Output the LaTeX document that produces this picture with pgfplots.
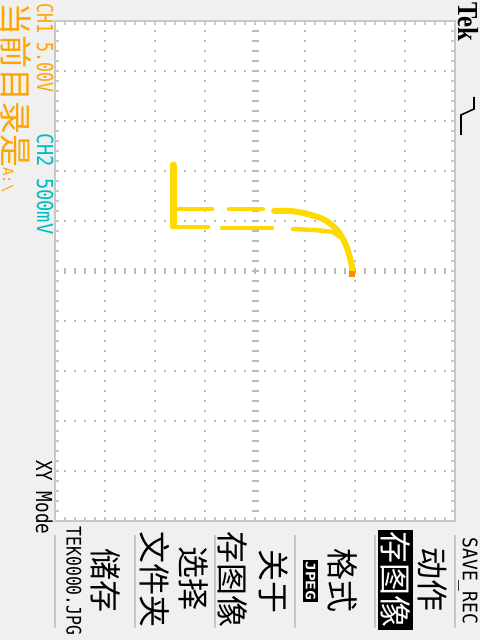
\documentclass[border=0pt]{standalone}
\usepackage{pgfplots}
\pgfplotsset{compat=1.18}
\usepackage{fontspec}
\setmainfont{DejaVu Sans}
\newfontfamily\mono{DejaVu Sans Mono}
\newfontfamily\cjk{Noto Sans CJK SC}
\newfontfamily\tekf{Liberation Serif}
\definecolor{bg}{RGB}{240,240,240}
\definecolor{grat}{RGB}{200,200,200}
\definecolor{dotc}{RGB}{185,185,185}
\definecolor{scopeorange}{RGB}{255,165,0}
\definecolor{scopecyan}{RGB}{0,190,190}
\definecolor{trace}{RGB}{255,218,0}
\definecolor{endpt}{RGB}{255,140,0}
\begin{document}
\begin{tikzpicture}[x=1pt,y=1pt]
% background
\fill[bg] (0,0) rectangle (480,640);
\fill[white] (55,619) rectangle (455,119);
% dotted grid lines
\foreach \gx in {105,155,205,305,355,405}{
  \foreach \k in {1,...,49}{\fill[dotc] (\gx-1,{640-21-10*\k-1}) rectangle +(2,2);}
}
\foreach \gy in {71,121,171,221,321,371,421,471}{
  \foreach \k in {1,...,39}{\fill[dotc] ({55+10*\k-1},640-\gy-1) rectangle +(2,2);}
}
% centre lines
\foreach \k in {1,...,49}{\fill[dotc] (251.5,{640-21-10*\k-1}) rectangle +(7,2);}
\foreach \k in {1,...,39}{\fill[dotc] ({55+10*\k-1},{640-271-3}) rectangle +(2,6);}
% border ticks
\foreach \k in {1,...,39}{
  \fill[grat] ({55+10*\k-1},619) rectangle +(2,-4);
  \fill[grat] ({55+10*\k-1},119) rectangle +(2,4);
}
\foreach \k in {1,...,49}{
  \fill[grat] (55,{640-21-10*\k-1}) rectangle +(4,2);
  \fill[grat] (455,{640-21-10*\k-1}) rectangle +(-4,2);
}
\draw[grat, line width=2.5pt] (55,619) rectangle (455,119);

% XY trace (x = pixel column, y = 640 - pixel row)
\begin{axis}[at={(55,119)}, anchor=south west, width=400pt, height=500pt,
  scale only axis, xmin=55, xmax=455, ymin=119, ymax=619,
  hide axis, clip=false]
\addplot[trace, line width=7pt, line cap=round] coordinates {(173,475) (173,414)};
% lower branch
\addplot[trace, line width=4.5pt, line cap=round] coordinates {(173,413) (208,413)};
\addplot[trace, line width=4.5pt, line cap=round] coordinates {(222,412) (272,412)};
\addplot[trace, line width=4.5pt, line cap=round, line join=round] coordinates {(293,411) (315,410) (333,408) (340,403)};
% upper branch
\addplot[trace, line width=4.5pt, line cap=round] coordinates {(175,431) (212,431)};
\addplot[trace, line width=4.5pt, line cap=round] coordinates {(229,431) (263,431)};
\addplot[trace, line width=6pt, line cap=round, line join=round, smooth] coordinates {(274,429) (290,429) (303,427) (318,423) (328,418) (337,410) (343,401) (347,392) (350,382) (352,373) (352,366)};
\addplot[only marks, mark=square*, mark size=2.5pt, endpt] coordinates {(352,366)};
\end{axis}

% left-side labels
\node[rotate=-90, anchor=base west, inner sep=0pt, text=scopeorange]
  at (3,638) {{\cjk\fontsize{33}{33}\selectfont 当前目录是}{\mono\fontsize{14}{14}\selectfont A:\textbackslash}};
\node[rotate=-90, anchor=base west, inner sep=0pt, text=scopeorange]
  at (37,637) {\mono\fontsize{22}{22}\selectfont\scalebox{0.75}[1]{CH1 5.00V}};
\node[rotate=-90, anchor=base west, inner sep=0pt, text=scopecyan]
  at (37,507) {\mono\fontsize{22}{22}\selectfont\scalebox{0.85}[1]{CH2 500mV}};
\node[rotate=-90, anchor=base west, inner sep=0pt, text=black]
  at (36,180) {\mono\fontsize{22}{22}\selectfont\scalebox{0.8}[1]{XY Mode}};

% Tek logo and trigger icon
\node[rotate=-90, anchor=base west, inner sep=0pt, text=black]
  at (458,638) {\tekf\bfseries\fontsize{29}{29}\selectfont\scalebox{0.85}[1]{Tek}};
\draw[black, line width=1.6pt] (474,543) -- (474,531) -- (461,525) -- (461,505);

% bottom menu separators
\foreach \sx in {55,135,215,295,375,455}{\draw[grat, line width=2pt] (\sx,105) -- (\sx,12);}
\fill[black] (378,110) rectangle (413,10);
\fill[black] (303,80) rectangle (318,38);

% menu texts
\node[rotate=-90, inner sep=0pt] at (468,59) {\mono\fontsize{20}{20}\selectfont\scalebox{0.9}[1]{SAVE\_REC}};
\node[rotate=-90, inner sep=0pt] at (433,60) {\cjk\fontsize{32}{32}\selectfont 动作};
\node[rotate=-90, inner sep=0pt, text=white] at (395.5,60) {\cjk\fontsize{32}{32}\selectfont 存图像};
\node[rotate=-90, inner sep=0pt] at (343,59) {\cjk\fontsize{32}{32}\selectfont 格式};
\node[rotate=-90, inner sep=0pt, text=white] at (310.5,59) {\mono\bfseries\fontsize{13}{13}\selectfont\scalebox{1.25}[1]{JPEG}};
\node[rotate=-90, inner sep=0pt] at (274,58) {\cjk\fontsize{32}{32}\selectfont 关于};
\node[rotate=-90, inner sep=0pt] at (233,60) {\cjk\fontsize{32}{32}\selectfont 存图像};
\node[rotate=-90, inner sep=0pt] at (194,61) {\cjk\fontsize{32}{32}\selectfont 选择};
\node[rotate=-90, inner sep=0pt] at (155,60) {\cjk\fontsize{32}{32}\selectfont 文件夹};
\node[rotate=-90, inner sep=0pt] at (106,59) {\cjk\fontsize{32}{32}\selectfont 储存};
\node[rotate=-90, inner sep=0pt] at (74,59) {\mono\fontsize{20}{20}\selectfont\scalebox{0.82}[1]{TEK0000.JPG}};
\end{tikzpicture}
\end{document}
